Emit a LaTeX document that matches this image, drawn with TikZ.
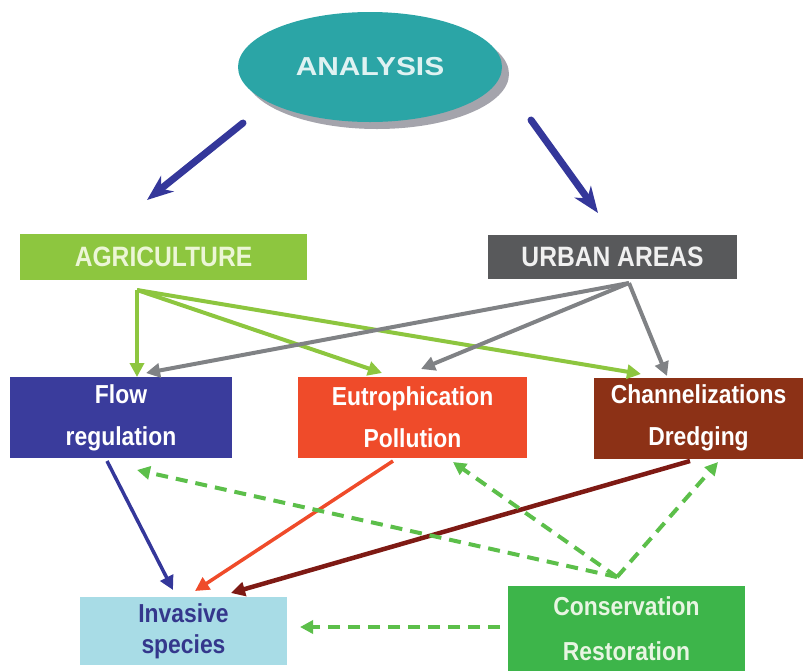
\documentclass[tikz,border=0pt]{standalone}
\usepackage{fontspec}
\setmainfont{Liberation Sans}[FakeStretch=0.88]
\newfontfamily\wideface{Liberation Sans}[FakeStretch=1.15]
\usetikzlibrary{arrows.meta,shapes.geometric}

\definecolor{teal1}{HTML}{2BA5A6}
\definecolor{shadowgray}{HTML}{A4A4AC}
\definecolor{navy}{HTML}{34379A}
\definecolor{agrigreen}{HTML}{8DC63F}
\definecolor{urbangray}{HTML}{58595B}
\definecolor{arrowgray}{HTML}{808285}
\definecolor{flowblue}{HTML}{3A3C9C}
\definecolor{eutred}{HTML}{EF4B2A}
\definecolor{chanbrown}{HTML}{8C3116}
\definecolor{darkred}{HTML}{7E1A14}
\definecolor{invblue}{HTML}{A8DCE6}
\definecolor{invtext}{HTML}{34378C}
\definecolor{consgreen}{HTML}{3DB54A}
\definecolor{dashgreen}{HTML}{5CBF4A}

\tikzset{
  boxtext/.style={font=\bfseries\fontsize{26}{42}\selectfont, align=center, inner sep=0pt},
  effect/.style={boxtext, rectangle, minimum height=81pt, text=white},
  headbox/.style={rectangle, inner sep=0pt, minimum height=46pt,
    font=\bfseries\fontsize{28}{30}\selectfont},
  bigarrow/.style={navy, line width=7pt, line cap=round,
    -{Stealth[length=26pt,width=20pt,inset=8pt]}},
  link/.style={line width=4pt, -{Triangle[length=14pt,width=14pt]}},
  dashlink/.style={dashgreen, line width=4pt, dash pattern=on 12pt off 8pt,
    -{Triangle[length=13pt,width=13pt]}},
}

\begin{document}
\begin{tikzpicture}[x=1pt,y=-1pt]
\useasboundingbox (0,0) rectangle (803,670);

% central ellipse with its drop shadow
\node[ellipse, fill=shadowgray, minimum width=264pt, minimum height=110pt] (anashadow) at (377,74) {};
\node[ellipse, fill=teal1, minimum width=264pt, minimum height=110pt,
      text={rgb,255:red,223;green,242;blue,242}, font=\wideface\bfseries\fontsize{26}{28}\selectfont] (ana) at (370,67) {ANALYSIS};

% sources
\node[headbox, fill=agrigreen, minimum width=287pt, text={rgb,255:red,236;green,246;blue,214}] (agri) at (163.5,256.5) {AGRICULTURE};
\node[headbox, fill=urbangray, minimum width=249pt, minimum height=44pt, text={rgb,255:red,240;green,240;blue,240}] (urb) at (612.5,257) {URBAN AREAS};

% pressures
\node[effect, fill=flowblue, minimum width=222pt] (flow) at (121,417.5) {Flow\\regulation};
\node[effect, fill=eutred, minimum width=229pt] (eut) at (412.5,417.5) {Eutrophication\\Pollution};
\node[effect, fill=chanbrown, minimum width=209pt] (chan) at (698.5,418) {Channelizations\\Dredging};

% outcomes
\node[boxtext, rectangle, fill=invblue, minimum width=207pt, minimum height=68pt, text=invtext,
      font=\bfseries\fontsize{26}{31}\selectfont] (inv) at (183.5,631) {Invasive\\species};
\node[boxtext, rectangle, fill=consgreen, minimum width=237pt, minimum height=85pt,
      text={rgb,255:red,232;green,245;blue,226}, font=\bfseries\fontsize{26}{45}\selectfont] (cons) at (626.5,628.5) {Conservation\\Restoration};

% connector end points
\coordinate (anaL) at (243,123);
\coordinate (anaR) at (531,120);
\coordinate (agriTip) at (147,200);
\coordinate (urbTip) at (598,213);
\coordinate (agriFan) at (137,290);
\coordinate (urbFan) at (629,283);
\coordinate (flowA) at (137,377);
\coordinate (eutA) at (382,373);
\coordinate (chanA) at (641,374);
\coordinate (flowU) at (146,373);
\coordinate (eutU) at (421,369);
\coordinate (chanU) at (667,376);
\coordinate (flowOut) at (107,461);
\coordinate (eutOut) at (393,461);
\coordinate (chanOut) at (690,461);
\coordinate (invA) at (173,590);
\coordinate (invB) at (195,591);
\coordinate (invC) at (231,593);
\coordinate (consFan) at (617,577);
\coordinate (flowD) at (137,470);
\coordinate (eutD) at (453,462);
\coordinate (chanD) at (718,462);
\coordinate (consL) at (500,627);
\coordinate (invR) at (300,627);

% analysis splits into the two sources
\draw[bigarrow] (anaL) -- (agriTip);
\draw[bigarrow] (anaR) -- (urbTip);

% sources to pressures
\draw[link, agrigreen] (agriFan) -- (flowA);
\draw[link, agrigreen] (agriFan) -- (eutA);
\draw[link, agrigreen] (agriFan) -- (chanA);
\draw[link, arrowgray] (urbFan) -- (flowU);
\draw[link, arrowgray] (urbFan) -- (eutU);
\draw[link, arrowgray] (urbFan) -- (chanU);

% pressures to invasive species
\draw[link, navy, line width=3.5pt] (flowOut) -- (invA);
\draw[link, eutred, line width=3.5pt] (eutOut) -- (invB);
\draw[link, darkred, line width=4.5pt] (chanOut) -- (invC);

% conservation acting back on pressures and outcomes
\draw[dashlink] (consFan) -- (flowD);
\draw[dashlink] (consFan) -- (eutD);
\draw[dashlink] (consFan) -- (chanD);
\draw[dashlink] (consL) -- (invR);
\end{tikzpicture}
\end{document}
